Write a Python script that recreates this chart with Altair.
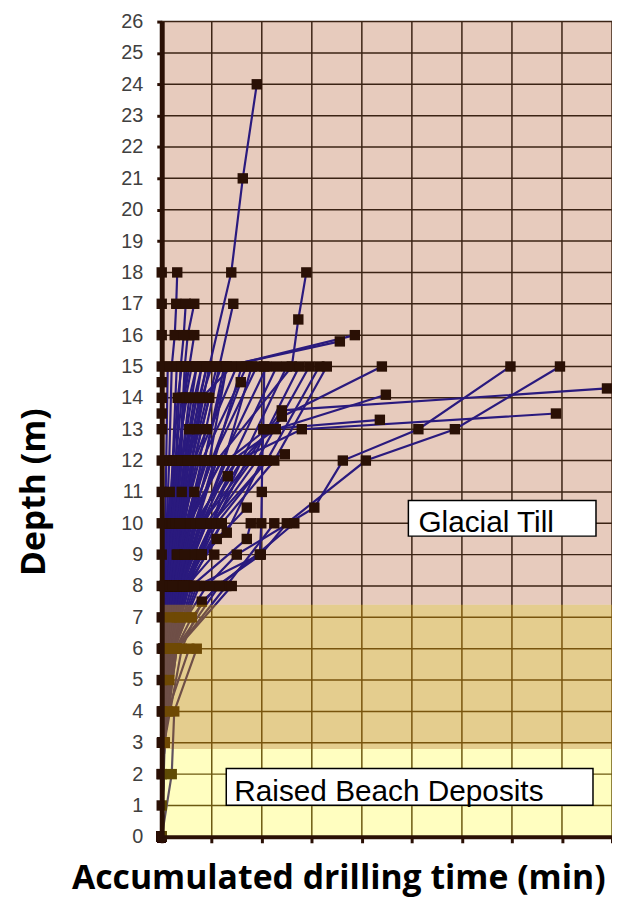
import altair as alt
import pandas as pd

# ---------------- data ----------------
X_TICKS = [0, 10, 20, 30, 40, 50, 60, 70, 80, 90]          # vertical grid (min)
Y_TICKS = list(range(0, 27))                                  # depth (m)

# geological zones (depth bounds, m)
ZONE_NAMES = ["Glacial Till", "Sand/Gravel", "Raised Beach Deposits"]
ZONE_BOTTOM = [7.4, 2.8, 0.0]
ZONE_TOP = [26.0, 7.4, 2.8]

# borehole drilling logs: depth (m) and accumulated drilling time (min)
BH_DEPTHS = [
    [0, 3, 6, 8, 10, 12, 15, 18, 21, 24],
    [0, 3, 6, 8, 10, 12, 15, 16.5, 18],
    [0, 2, 3, 4, 6, 8, 10, 12, 15, 16, 17, 18],
    [0, 3, 6, 8, 10, 12, 15, 17],
    [0, 3, 6, 8, 10, 12, 15, 16, 17],
    [0, 3, 6, 8, 10, 12, 15, 16, 17],
    [0, 3, 6, 8, 10, 12, 14, 15, 16],
    [0, 3, 6, 8, 10, 12, 15, 15.8],
    [0, 3, 6, 8, 10, 12, 15, 16],
    [0, 3, 6, 8, 10, 12, 14.5],
    [0, 3, 6, 8, 10, 12, 14],
    [0, 3, 6, 8, 9, 10, 12, 13.4, 15],
    [0, 3, 6, 8, 9, 10, 12, 13.6, 14.3],
    [0, 3, 6, 8, 10, 12, 13, 14.1],
    [0, 3, 6, 8, 10, 12, 13, 13.3],
    [0, 3, 6, 8, 10, 12, 13, 13.5],
    [0, 3, 6, 7, 8, 9, 10.5, 12, 13, 15],
    [0, 3, 6, 7, 8, 9, 10, 12, 13, 15],
    [0, 3, 6, 8, 9, 10, 11, 12, 13, 15],
    [0, 3, 6, 8, 9.5, 10.5],
    [0, 3, 6, 8, 9, 9.7, 12, 12.2],
    [0, 3, 6, 8, 9.5, 10],
    [0, 3, 6, 8, 10],
    [0, 3, 6, 8, 10],
    [0, 3, 6, 7, 8, 9, 11.5],
    [0, 3, 6, 8, 10, 12],
    [0, 1, 2, 3, 4, 5, 6, 7, 8, 9, 10, 11, 12, 13, 13.5, 14, 14.5, 15, 16, 17, 18],
    [0, 3, 6, 8, 10, 12, 15],
    [0, 3, 6, 8, 10, 12, 15],
    [0, 3, 6, 8, 10, 12, 15],
    [0, 3, 6, 8, 10, 12, 15],
    [0, 3, 6, 8, 10, 12, 15],
    [0, 3, 6, 8, 10, 12, 15],
    [0, 3, 6, 8, 10, 12, 15],
    [0, 3, 6, 8, 10, 12, 15],
    [0, 3, 6, 8, 10, 12, 15],
    [0, 3, 6, 8, 10, 12, 15],
    [0, 3, 6, 8, 10, 12, 15],
    [0, 3, 6, 8, 10, 12, 15],
    [0, 3, 6, 8, 10, 12, 15],
    [0, 3, 6, 8, 10, 12, 15],
    [0, 3, 6, 8, 10, 12],
    [0, 3, 6, 8, 10, 12],
    [0, 3, 6, 8, 10, 12],
    [0, 3, 6, 8, 10, 12],
    [0, 3, 6, 8, 10, 12],
    [0, 3, 6, 8, 10, 12],
    [0, 3, 6, 8, 10],
    [0, 3, 6, 8, 10],
    [0, 3, 6, 8, 10],
    [0, 3, 6, 8, 10],
    [0, 3, 6, 8, 9],
    [0, 3, 6, 8, 9],
    [0, 3, 6, 8, 9],
    [0, 3, 6, 8],
    [0, 3, 6, 8],
    [0, 3, 6, 8],
    [0, 3, 6, 8],
    [0, 3, 6, 7.5, 8],
    [0, 2, 4, 6],
    [0, 3, 4, 6],
    [0, 3, 6, 8, 10, 11],
    [0, 3, 6, 8, 10, 12, 13],
    [0, 3, 6, 8, 10, 12, 14, 15],
    [0, 3, 6, 8, 10, 12, 14, 15],
    [0, 3, 6, 8, 10, 12, 14, 15],
    [0, 3, 6, 8, 10, 12, 14, 15],
    [0, 3, 6, 8, 10, 12, 14, 15],
    [0, 3, 6, 8, 10, 12, 14, 15],
    [0, 3, 6, 8, 10, 12, 14],
    [0, 3, 6, 8, 10, 12, 14],
    [0, 3, 6, 8, 10, 12, 14],
    [0, 3, 6, 8, 10, 12, 13],
    [0, 3, 6, 8, 10, 12, 13],
    [0, 3, 6, 8, 10, 11],
    [0, 3, 6, 8, 10, 11],
    [0, 3, 6, 8, 9, 10],
    [0, 3, 6, 8, 9, 10],
    [0, 3, 6, 8, 9],
    [0, 3, 6, 8, 9],
    [0, 3, 6, 7, 8],
    [0, 3, 6, 7, 8],
    [0, 3, 5, 6, 8],
    [0, 3, 6, 8, 10, 12],
    [0, 3, 6, 8, 10, 12],
    [0, 3, 6, 8, 10, 12],
    [0, 3, 6, 8, 10, 12, 15],
    [0, 3, 6, 8, 10, 12, 15],
    [0, 3, 6, 8, 10, 12, 15],
    [0, 3, 6, 8, 10, 12, 15],
    [0, 3, 6, 8, 10, 12, 15],
    [0, 3, 6, 8, 10, 12, 15],
    [0, 3, 6, 8, 10, 12, 14, 15],
    [0, 3, 6, 8, 10, 12, 14, 15],
]
BH_TIMES = [
    [0, 0.3, 1.2, 2.2, 3.8, 6, 9.5, 13.9, 16.2, 19.0],
    [0, 0.4, 1.6, 3.4, 6.5, 11, 26, 27.3, 28.9],
    [0, 0, 0.1, 0.1, 0.3, 0.6, 1, 1.5, 2, 2.6, 2.9, 3.1],
    [0, 0.3, 1, 2.1, 4.2, 7.5, 11.5, 14.3],
    [0, 0.2, 0.8, 1.4, 2.4, 3.6, 4.6, 5.2, 6.5],
    [0, 0.2, 0.6, 1.1, 1.8, 2.8, 3.8, 4.4, 4.8],
    [0, 0.2, 0.7, 1.3, 2.5, 3.8, 4.5, 5.5, 6.5],
    [0, 0.4, 1.5, 3, 5.5, 8.5, 12.5, 35.6],
    [0, 0.3, 1.4, 3.2, 6, 9.5, 13, 38.6],
    [0, 0.3, 1.3, 2.8, 5.5, 10, 15.8],
    [0, 0.1, 0.5, 1, 1.8, 2.8, 4],
    [0, 0.4, 2, 4.5, 7, 10, 16, 24, 44],
    [0, 0.4, 2.2, 5, 7.5, 10.5, 17, 24, 89],
    [0, 0.3, 1.8, 4, 8, 14, 22.8, 44.8],
    [0, 0.3, 1.7, 3.8, 7.5, 13, 21, 43.6],
    [0, 0.4, 2, 4.2, 8.5, 15, 28, 78.8],
    [0, 0.5, 2.5, 5, 9, 15, 30.5, 36.2, 51.3, 69.7],
    [0, 0.5, 2.8, 6, 11, 19.8, 25, 40.8, 58.6, 79.6],
    [0, 0.4, 2.5, 7, 19.6, 19.9, 20, 20.1, 20.3, 20.5],
    [0, 0.3, 2, 5, 11, 17],
    [0, 0.3, 1.8, 4, 8, 13, 20, 24.6],
    [0, 0.4, 2.5, 6, 17, 17.8],
    [0, 0.5, 3, 12.9, 22.5],
    [0, 0.4, 2.8, 11.5, 26.5],
    [0, 0.3, 1.5, 3, 5, 8, 13.2],
    [0, 0.3, 1.5, 3, 5.5, 12],
    [0] * 21,
    [0, 0.1, 0.3, 0.5, 0.7, 0.9, 1.2],
    [0, 0.2, 0.6, 1, 1.5, 2.2, 3],
    [0, 0.2, 0.8, 1.5, 2.5, 4, 7],
    [0, 0.3, 1, 2, 3.5, 5, 9],
    [0, 0.3, 1.2, 2.5, 4.5, 7, 15],
    [0, 0.3, 1.3, 2.6, 5, 8, 17],
    [0, 0.4, 1.5, 3, 5.5, 10, 19],
    [0, 0.3, 1.2, 2.7, 5, 12, 21],
    [0, 0.4, 1.6, 3.5, 7, 14, 23],
    [0, 0.4, 1.7, 3.6, 8, 16, 25],
    [0, 0.4, 1.8, 4, 9, 18, 27.5],
    [0, 0.5, 2, 4.5, 10, 19, 29.5],
    [0, 0.5, 2.2, 5, 11, 21, 31.5],
    [0, 0.5, 2.3, 5.5, 12, 22.5, 33],
    [0, 0.2, 0.6, 1, 1.6, 2.5],
    [0, 0.3, 1, 2, 3.5, 6.5],
    [0, 0.3, 1.2, 2.6, 5, 9],
    [0, 0.4, 1.5, 3.2, 6.5, 15],
    [0, 0.4, 1.8, 4, 8, 17.5],
    [0, 0.5, 2.2, 5, 10, 21],
    [0, 0.2, 0.6, 1.2, 2.5],
    [0, 0.3, 1, 2.5, 6],
    [0, 0.4, 1.6, 3.5, 9],
    [0, 0.4, 2, 4.5, 12],
    [0, 0.2, 0.7, 1.5, 3],
    [0, 0.3, 1.2, 3, 6.5],
    [0, 0.4, 2, 5, 10.5],
    [0, 0.2, 0.8, 2],
    [0, 0.3, 1.5, 4.5],
    [0, 0.4, 2.5, 7.5],
    [0, 0.5, 3, 14],
    [0, 0.5, 4, 8, 11.5],
    [0, 2, 2.5, 7],
    [0, 0.6, 1.2, 5.5],
    [0, 0.2, 0.6, 1, 1.3, 1.6],
    [0, 0.3, 1, 2, 3.5, 5, 7],
    [0, 0.3, 1.1, 2.2, 4, 6, 8, 14],
    [0, 0.1, 0.4, 0.9, 1.5, 2.3, 3.2, 4],
    [0, 0.2, 0.6, 1.3, 2.2, 3.3, 4.8, 6],
    [0, 0.2, 0.9, 1.8, 3, 4.5, 6.5, 8],
    [0, 0.3, 1.1, 2.3, 3.8, 5.5, 8, 10],
    [0, 0.3, 1.3, 2.7, 4.4, 6.5, 9.5, 12],
    [0, 0.1, 0.5, 1.2, 2, 3, 5],
    [0, 0.2, 0.8, 1.7, 3, 4.5, 7],
    [0, 0.3, 1.1, 2.4, 4, 6, 9],
    [0, 0.2, 0.7, 1.5, 2.6, 4, 5.5],
    [0, 0.3, 1.2, 2.5, 4.2, 6.5, 9],
    [0, 0.2, 0.8, 1.8, 3, 4],
    [0, 0.3, 1.2, 2.8, 4.8, 6.5],
    [0, 0.2, 0.9, 2, 3.2, 4.5],
    [0, 0.3, 1.4, 3, 4.8, 6.5],
    [0, 0.2, 1, 2.5, 4.5],
    [0, 0.3, 1.6, 4, 8],
    [0, 0.2, 1, 2, 3.5],
    [0, 0.3, 1.8, 3.5, 5.5],
    [0, 0.4, 1.5, 2.5, 6.5],
    [0, 0.2, 0.9, 2, 3.5, 5],
    [0, 0.3, 1.4, 2.9, 5.5, 8],
    [0, 0.4, 1.9, 3.8, 7, 11],
    [0, 0.1, 0.5, 1.2, 2.2, 3.5, 5],
    [0, 0.2, 0.9, 2, 3.2, 4.8, 8],
    [0, 0.3, 1.3, 2.6, 4.5, 6.5, 11],
    [0, 0.3, 1.6, 3.3, 5.8, 8.5, 13],
    [0, 0.4, 1.9, 3.9, 6.8, 10.5, 16],
    [0, 0.4, 2.1, 4.4, 7.8, 12.5, 18],
    [0, 0.2, 0.7, 1.6, 2.8, 4, 5.5, 7],
    [0, 0.3, 1, 2.1, 3.6, 5.2, 7.5, 9],
]

# annotation boxes (data units) and their labels
BOX_TEXT = ["Glacial Till", "Raised Beach Deposits"]
BOX_X0 = [49.3, 12.9]
BOX_X1 = [86.8, 86.2]
BOX_Y0 = [9.59, 1.01]
BOX_Y1 = [10.73, 2.18]
TEXT_X = [51.3, 14.5]
TEXT_Y = [9.72, 1.14]

# ---------------- tables ----------------
rows = []
for i, (ds, ts) in enumerate(zip(BH_DEPTHS, BH_TIMES)):
    for j, (d, t) in enumerate(zip(ds, ts)):
        rows.append({"bh": i, "ord": j, "depth": d, "time": t})
logs = pd.DataFrame(rows)

zones = pd.DataFrame({"zone": ZONE_NAMES, "y0": ZONE_BOTTOM, "y1": ZONE_TOP,
                      "x0": [X_TICKS[0]] * 3, "x1": [X_TICKS[-1]] * 3})
xgrid = pd.DataFrame({"x": X_TICKS})
ygrid = pd.DataFrame({"y": Y_TICKS})
boxes = pd.DataFrame({"label": BOX_TEXT, "x0": BOX_X0, "x1": BOX_X1, "y0": BOX_Y0,
                      "y1": BOX_Y1, "tx": TEXT_X, "ty": TEXT_Y})

XS = alt.Scale(domain=[0, 90], nice=False, zero=False)
YS = alt.Scale(domain=[0, 26], nice=False, zero=False)

DARK = "#2a1005"
GRID = "#3b2314"

x_axis = alt.Axis(values=X_TICKS, labels=False, ticks=True, tickSize=6, tickWidth=3,
                  tickColor=DARK, domainColor=DARK, domainWidth=4, grid=False,
                  title="Accumulated drilling time (min)", titleFont="Open Sans",
                  titleFontSize=34, titleFontWeight="bold", titleColor="#000000",
                  titleX=178, titleY=52, titleBaseline="alphabetic", zindex=1)
y_axis = alt.Axis(values=Y_TICKS, tickSize=5, tickWidth=3, tickColor=DARK,
                  domainColor=DARK, domainWidth=5, grid=False, labelPadding=14,
                  labelOverlap=False,
                  labelFont="Liberation Sans", labelFontSize=20, labelColor="#404040",
                  title="Depth (m)", titleFont="Open Sans", titleFontSize=34,
                  titleFontWeight="bold", titleColor="#000000", titleX=-128, titleY=474,
                  titleAngle=270, titleBaseline="middle", titleAlign="center", zindex=1)

till = alt.Chart(zones).transform_filter(alt.datum.zone == "Glacial Till").mark_rect(
    color="#e7cbbd").encode(
    x=alt.X("x0:Q", scale=XS, axis=x_axis), x2="x1:Q",
    y=alt.Y("y0:Q", scale=YS, axis=y_axis), y2="y1:Q")

vgrid = alt.Chart(xgrid).mark_rule(color=GRID, strokeWidth=1.5).encode(
    x=alt.X("x:Q", scale=XS, axis=x_axis))
hgrid = alt.Chart(ygrid).mark_rule(color=GRID, strokeWidth=1.5).encode(
    y=alt.Y("y:Q", scale=YS, axis=y_axis))

lines = alt.Chart(logs).mark_line(color="#2a1a7e", strokeWidth=2.2).encode(
    x=alt.X("time:Q", scale=XS, axis=x_axis), y=alt.Y("depth:Q", scale=YS, axis=y_axis),
    detail="bh:N", order="ord:Q")
points = alt.Chart(logs).mark_square(color=DARK, size=110, opacity=1).encode(
    x=alt.X("time:Q", scale=XS, axis=x_axis), y=alt.Y("depth:Q", scale=YS, axis=y_axis))

tan = alt.Chart(zones).transform_filter(alt.datum.zone == "Sand/Gravel").mark_rect(
    color="#c39004", opacity=0.45).encode(
    x=alt.X("x0:Q", scale=XS, axis=x_axis), x2="x1:Q",
    y=alt.Y("y0:Q", scale=YS, axis=y_axis), y2="y1:Q")
beach = alt.Chart(zones).transform_filter(
    alt.datum.zone == "Raised Beach Deposits").mark_rect(
    color="#fffc04", opacity=0.25).encode(
    x=alt.X("x0:Q", scale=XS, axis=x_axis), x2="x1:Q",
    y=alt.Y("y0:Q", scale=YS, axis=y_axis), y2="y1:Q")

box = alt.Chart(boxes).mark_rect(fill="#ffffff", stroke="#000000", strokeWidth=1.5).encode(
    x=alt.X("x0:Q", scale=XS, axis=x_axis), x2="x1:Q",
    y=alt.Y("y0:Q", scale=YS, axis=y_axis), y2="y1:Q")
label = alt.Chart(boxes).mark_text(font="Liberation Sans", fontSize=30, align="left",
                                   baseline="alphabetic", color="#000000").encode(
    x=alt.X("tx:Q", scale=XS, axis=x_axis), y=alt.Y("ty:Q", scale=YS, axis=y_axis),
    text="label:N")

chart = alt.layer(till, vgrid, hgrid, lines, points, tan, beach, box, label).properties(
    width=454, height=822, autosize="none",
    padding={"left": 155, "top": 10, "right": 0, "bottom": 60},
).configure_view(strokeWidth=0).configure(background="#ffffff").configure_axisY(
    labelOverlap=False)

chart.save("out.html", embed_options={"renderer": "svg", "actions": False})
